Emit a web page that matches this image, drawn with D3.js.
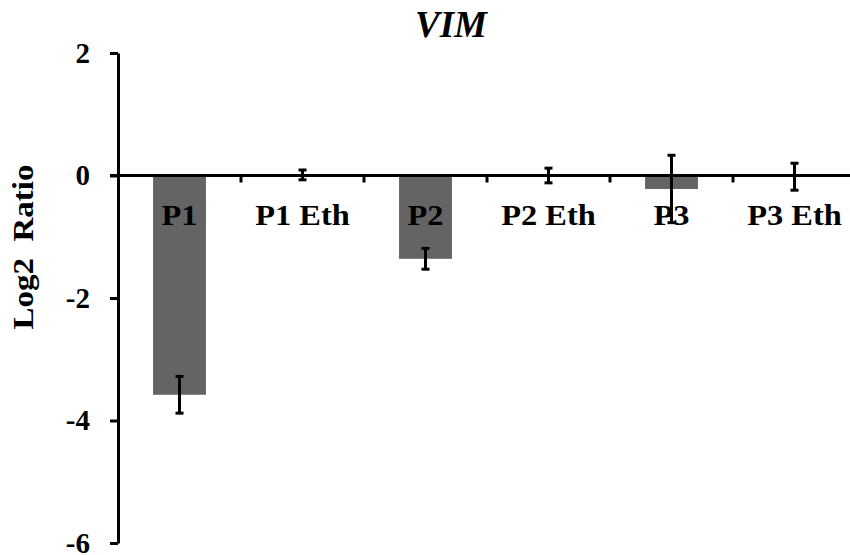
<!DOCTYPE html>
<html lang="en">
  <head>
    <meta charset="UTF-8" />
    <title>VIM</title>
    <style>
      body {
        margin: 0;
        background: #fff;
      }
      text {
        font-family: 'Liberation Serif', 'Times New Roman', serif;
        font-weight: bold;
        fill: #000;
      }
    </style>
  </head>
  <body>
    <div id="main"></div>
    <script src="https://cdn.jsdelivr.net/npm/d3@7"></script>
    <script>
      const categories = ['P1', 'P1 Eth', 'P2', 'P2 Eth', 'P3', 'P3 Eth']
      const values = [-3.58, 0.01, -1.36, 0.0, -0.22, -0.02]
      const errors = [0.3, 0.08, 0.17, 0.12, 0.55, 0.22]
      const yTicks = [-6, -4, -2, 0, 2]

      const [width, height] = [850, 555]

      const svg = d3
        .select('#main')
        .append('svg')
        .attr('width', width)
        .attr('height', height)
        .attr('viewBox', `0 0 ${width} ${height}`)

      const xScale = d3.scaleBand().domain(categories).range([118, 856]).padding(0)
      const yScale = d3.scaleLinear().domain([-6, 2]).range([543, 53])

      const barW = xScale.bandwidth() * 0.43
      const y0 = yScale(0)

      // 柱子
      svg
        .append('g')
        .selectAll('rect')
        .data(values)
        .join('rect')
        .attr('x', (_, i) => xScale(categories[i]) + (xScale.bandwidth() - barW) / 2)
        .attr('y', d => Math.min(yScale(d), y0))
        .attr('width', barW)
        .attr('height', d => Math.abs(yScale(d) - y0))
        .attr('fill', '#646464')

      // x 轴（零线）
      const xAxis = svg.append('g')
      xAxis
        .append('line')
        .attr('x1', 110)
        .attr('x2', xScale.range()[1])
        .attr('y1', y0)
        .attr('y2', y0)
        .attr('stroke', '#000')
        .attr('stroke-width', 3)
      xAxis
        .selectAll('.xtick')
        .data(categories.slice(1))
        .join('line')
        .attr('class', 'xtick')
        .attr('x1', d => xScale(d))
        .attr('x2', d => xScale(d))
        .attr('y1', y0)
        .attr('y2', y0 + 7)
        .attr('stroke', '#000')
        .attr('stroke-width', 3)

      svg
        .append('g')
        .selectAll('text')
        .data(categories)
        .join('text')
        .attr('transform', d => `translate(${xScale(d) + xScale.bandwidth() / 2}, 225) scale(1.08, 1)`)
        .attr('text-anchor', 'middle')
        .style('font-size', '30px')
        .text(d => d)

      // 误差线
      const errG = svg
        .append('g')
        .attr('stroke', '#000')
        .attr('stroke-width', 3)
        .selectAll('g')
        .data(values.map((v, i) => ({ v, e: errors[i], c: categories[i] })))
        .join('g')
        .attr('transform', d => `translate(${xScale(d.c) + xScale.bandwidth() / 2}, 0)`)
      errG
        .append('line')
        .attr('y1', d => yScale(d.v + d.e))
        .attr('y2', d => yScale(d.v - d.e))
      errG
        .append('line')
        .attr('x1', -4)
        .attr('x2', 4)
        .attr('y1', d => yScale(d.v + d.e))
        .attr('y2', d => yScale(d.v + d.e))
      errG
        .append('line')
        .attr('x1', -4)
        .attr('x2', 4)
        .attr('y1', d => yScale(d.v - d.e))
        .attr('y2', d => yScale(d.v - d.e))

      // y 轴
      const yAxis = svg
        .append('g')
        .attr('transform', 'translate(118, 0)')
        .call(
          d3
            .axisLeft(yScale)
            .tickValues(yTicks)
            .tickSize(8)
            .tickSizeOuter(0)
            .tickPadding(20)
            .tickFormat(d => String(d))
        )
      yAxis.select('.domain').attr('stroke-width', 3)
      yAxis.selectAll('.tick line').attr('stroke-width', 3)
      yAxis
        .selectAll('.tick text')
        .style('font-size', '29px')
        .style('font-family', "'Liberation Serif', 'Times New Roman', serif")
        .style('font-weight', 'bold')
        .attr('dy', '0.32em')

      svg
        .append('text')
        .attr('transform', 'translate(33, 247) rotate(-90) scale(1.1, 1)')
        .attr('text-anchor', 'middle')
        .style('font-size', '30px')
        .style('white-space', 'pre')
        .text('Log2  Ratio')

      svg
        .append('text')
        .attr('x', 451)
        .attr('y', 37)
        .attr('text-anchor', 'middle')
        .style('font-size', '37px')
        .style('font-style', 'italic')
        .text('VIM')
    </script>
  </body>
</html>
